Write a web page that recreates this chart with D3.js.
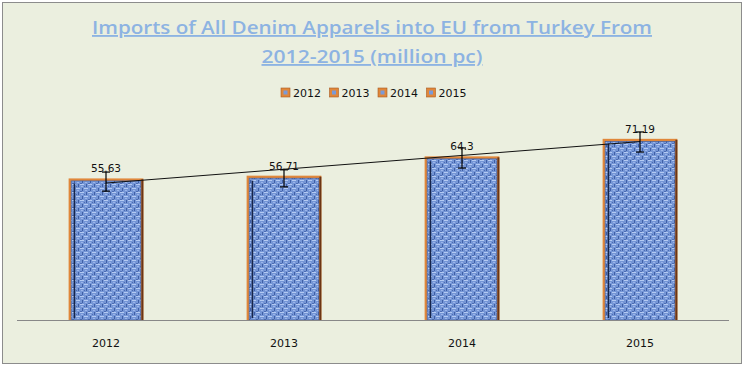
<!DOCTYPE html>
<html>
<head>
<meta charset="utf-8">
<script src="https://cdn.jsdelivr.net/npm/d3@7"></script>
<style>
  body { margin: 0; background: #fff; }
  svg { display: block; }
</style>
</head>
<body>
<div id="chart"></div>
<script>
var years = ['2012', '2013', '2014', '2015'];
var imports = [55.63, 56.71, 64.3, 71.19];
var errPlus = [2.5, 2.3, 3.3, 2.7];
var errMinus = [5.0, 4.4, 4.6, 5.2];
var titleLines = ['Imports of All Denim Apparels into EU from Turkey From', '2012-2015 (million pc)'];

var W = 745, H = 367;
var base = 320, left = 17, right = 729;

var svg = d3.select('#chart')
    .append('svg')
    .attr('width', W)
    .attr('height', H)

// denim texture
var defs = svg.append('defs')
var pat = defs.append('pattern')
    .attr('id', 'denim')
    .attr('patternUnits', 'userSpaceOnUse')
    .attr('width', 8).attr('height', 8)
pat.append('rect').attr('width', 8).attr('height', 8).attr('fill', '#7596d6')
pat.append('rect').attr('x', 0).attr('y', 0).attr('width', 4).attr('height', 1).attr('fill', '#b4caf2')
pat.append('rect').attr('x', 4).attr('y', 4).attr('width', 4).attr('height', 1).attr('fill', '#b4caf2')
pat.append('rect').attr('x', 1).attr('y', 2).attr('width', 2).attr('height', 1).attr('fill', '#9bb5ea')
pat.append('rect').attr('x', 5).attr('y', 6).attr('width', 2).attr('height', 1).attr('fill', '#9bb5ea')
pat.append('rect').attr('x', 6).attr('y', 0).attr('width', 1).attr('height', 3).attr('fill', '#3f5fa6')
pat.append('rect').attr('x', 2).attr('y', 4).attr('width', 1).attr('height', 3).attr('fill', '#3f5fa6')
pat.append('rect').attr('x', 0).attr('y', 7).attr('width', 2).attr('height', 1).attr('fill', '#4d6db3')
pat.append('rect').attr('x', 4).attr('y', 2).attr('width', 1).attr('height', 1).attr('fill', '#4d6db3')

svg.append('rect')
    .attr('x', 2.5).attr('y', 2.5)
    .attr('width', 739).attr('height', 361)
    .attr('fill', '#ebefdf')
    .attr('stroke', '#8c8c8c')

// title
svg.append('g').selectAll('text')
    .data(titleLines)
    .enter()
    .append('text')
    .attr('x', 372)
    .attr('y', function (d, i) { return 34 + i * 29 })
    .attr('text-anchor', 'middle')
    .attr('textLength', function (d, i) { return i == 0 ? 560 : 221 })
    .attr('lengthAdjust', 'spacingAndGlyphs')
    .style('font-family', '"Open Sans", sans-serif')
    .style('font-weight', '600')
    .style('font-size', '18.5px')
    .style('fill', '#8db3e2')
    .style('text-decoration', 'underline')
    .text(function (d) { return d })

// legend
var legend = svg.append('g').selectAll('g')
    .data(years)
    .enter()
    .append('g')
    .attr('transform', function (d, i) { return 'translate(' + (281 + i * 48.5) + ', 88)' })
legend.append('rect')
    .attr('width', 9).attr('height', 9)
    .attr('fill', '#e0873a')
    .attr('stroke', '#a85a24').attr('stroke-width', 0.6)
legend.append('rect')
    .attr('x', 2.5).attr('y', 2.5)
    .attr('width', 4).attr('height', 4)
    .attr('fill', '#7a9ad8')
legend.append('text')
    .attr('x', 12).attr('y', 8.5)
    .style('font-family', '"DejaVu Sans", sans-serif')
    .style('font-size', '11px')
    .style('fill', '#111')
    .text(function (d) { return d })

var xS = d3.scaleBand()
    .domain(years)
    .range([left, right])
    .paddingInner(0.58)
    .paddingOuter(0.29)
var yS = d3.scaleLinear()
    .domain([0, 80])
    .range([base, base - 80 * 2.545])

var graph = svg.append('g')

var bars = graph.selectAll('g.bar')
    .data(imports)
    .enter()
    .append('g')
    .attr('class', 'bar')
bars.append('rect')
    .attr('x', function (d, i) { return xS(years[i]) })
    .attr('y', function (d) { return yS(d) })
    .attr('width', xS.bandwidth())
    .attr('height', function (d) { return base - yS(d) })
    .attr('fill', '#e0873a')
bars.append('rect')
    .attr('x', function (d, i) { return xS(years[i]) + xS.bandwidth() - 2 })
    .attr('y', function (d) { return yS(d) + 1 })
    .attr('width', 2)
    .attr('height', function (d) { return base - yS(d) - 1 })
    .attr('fill', '#6b3515')
bars.append('rect')
    .attr('x', function (d, i) { return xS(years[i]) + 2.5 })
    .attr('y', function (d) { return yS(d) + 2.5 })
    .attr('width', xS.bandwidth() - 5)
    .attr('height', function (d) { return base - yS(d) - 2.5 })
    .attr('fill', 'url(#denim)')
    .attr('stroke', '#3d5a98').attr('stroke-width', 0.6)
bars.append('rect')
    .attr('x', function (d, i) { return xS(years[i]) + 5 })
    .attr('y', function (d) { return yS(d) + 5 })
    .attr('width', 1.6)
    .attr('height', function (d) { return base - yS(d) - 7 })
    .attr('fill', '#16244a')

// axis
graph.append('g')
    .attr('transform', 'translate(0, ' + base + ')')
    .call(d3.axisBottom(xS).tickSize(0).tickPadding(19))
    .call(function (g) {
        g.select('.domain').attr('stroke', '#888').attr('d', 'M' + left + ',0.5H' + right)
        g.selectAll('text')
            .style('font-family', '"DejaVu Sans", sans-serif')
            .style('font-size', '11px')
            .style('fill', '#111')
    })

// linear trendline
var xs = imports.map(function (d, i) { return i })
var mx = d3.mean(xs), my = d3.mean(imports)
var slope = d3.sum(xs, function (x, i) { return (x - mx) * (imports[i] - my) }) /
    d3.sum(xs, function (x) { return (x - mx) * (x - mx) })
var icpt = my - slope * mx
var cx = function (i) { return xS(years[i]) + xS.bandwidth() / 2 }
graph.append('line')
    .attr('x1', cx(0)).attr('y1', yS(icpt))
    .attr('x2', cx(3)).attr('y2', yS(icpt + slope * 3))
    .attr('stroke', '#111').attr('stroke-width', 1)

// error bars
var eb = graph.selectAll('g.err')
    .data(imports)
    .enter()
    .append('g')
    .attr('class', 'err')
    .attr('stroke', '#000').attr('stroke-width', 1.2)
eb.append('line')
    .attr('x1', function (d, i) { return cx(i) }).attr('x2', function (d, i) { return cx(i) })
    .attr('y1', function (d, i) { return yS(d + errPlus[i]) })
    .attr('y2', function (d, i) { return yS(d - errMinus[i]) })
eb.append('line')
    .attr('x1', function (d, i) { return cx(i) - 4 }).attr('x2', function (d, i) { return cx(i) + 4 })
    .attr('y1', function (d, i) { return yS(d + errPlus[i]) })
    .attr('y2', function (d, i) { return yS(d + errPlus[i]) })
eb.append('line')
    .attr('x1', function (d, i) { return cx(i) - 4 }).attr('x2', function (d, i) { return cx(i) + 4 })
    .attr('y1', function (d, i) { return yS(d - errMinus[i]) })
    .attr('y2', function (d, i) { return yS(d - errMinus[i]) })

// data labels
graph.selectAll('text.lbl')
    .data(imports)
    .enter()
    .append('text')
    .attr('class', 'lbl')
    .attr('x', function (d, i) { return cx(i) })
    .attr('y', function (d) { return yS(d) - 6 })
    .attr('text-anchor', 'middle')
    .style('font-family', '"DejaVu Sans", sans-serif')
    .style('font-size', '10.5px')
    .style('fill', '#111')
    .text(function (d) { return d })
</script>
</body>
</html>
